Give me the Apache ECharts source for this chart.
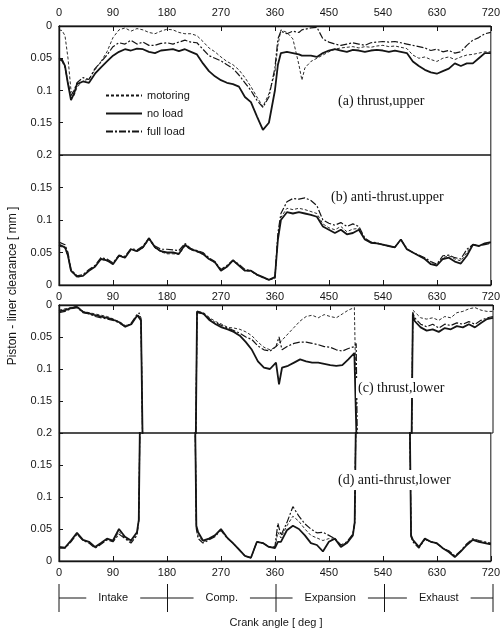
<!DOCTYPE html>
<html>
<head>
<meta charset="utf-8">
<script src="https://cdn.jsdelivr.net/npm/echarts@6/dist/echarts.min.js"></script>
<style>
  html,body{margin:0;padding:0;background:#fff;}
  #main{width:503px;height:632px;}
</style>
</head>
<body>
<div id="main"></div>
<script>
// crank angle grids (deg)
const ANG_A = [0,5,10,15,20,25,30,40,50,60,70,80,90,100,110,120,130,140,150,160,170,180,190,200,210,220,230,240,250,260,270,280,290,300,310,320,330,340,350,360,365,370,380,390,400,405,410,420,430,440,450,460,470,480,490,500,510,520,530,540,550,560,570,580,590,600,610,620,630,640,650,660,670,680,690,700,710,720];
const ANG_B = [0,10,15,20,30,40,50,60,70,80,90,100,110,120,130,140,150,160,170,180,190,200,210,220,230,240,250,260,270,280,290,300,310,320,330,340,350,360,365,370,380,390,400,410,420,430,440,450,460,470,480,490,500,510,520,530,540,550,560,570,580,590,600,610,620,630,640,650,660,670,680,690,700,710,720];
const ANG_CD = [0,10,20,30,40,50,60,70,80,90,100,110,120,130,133,136,140,150,160,170,180,190,200,210,220,226,229,232,240,250,260,270,280,290,300,310,320,330,340,350,360,365,370,380,390,400,410,420,430,440,450,460,470,480,490,493,496,500,510,520,530,540,550,560,570,580,584,587,590,600,610,620,630,640,650,660,670,680,690,700,710,720];

// (a) thrust, upper  [mm]
const motoringA = [0.006,0.007,0.015,0.05,0.1,0.108,0.095,
  0.085,0.082,0.068,0.055,0.04,0.018,0.006,0.003,0.008,0.004,
  0.006,0.01,0.012,0.008,0.005,0.006,0.01,0.012,0.012,0.015,
  0.024,0.034,0.04,0.048,0.055,0.06,0.068,0.08,0.094,0.11,
  0.125,0.105,0.072,0.03,0.006,0.01,0.02,0.06,0.084,0.065,
  0.055,0.05,0.045,0.04,0.036,0.034,0.033,0.032,0.034,0.032,
  0.033,0.031,0.03,0.032,0.031,0.033,0.035,0.045,0.05,0.048,
  0.052,0.055,0.05,0.048,0.052,0.048,0.045,0.044,0.042,0.04,0.04];
const noLoadA = [0.05,0.052,0.062,0.09,0.115,0.105,0.09,
  0.086,0.088,0.074,0.064,0.055,0.046,0.04,0.036,0.038,0.035,
  0.036,0.04,0.042,0.038,0.037,0.036,0.039,0.036,0.04,0.044,
  0.058,0.07,0.078,0.084,0.088,0.09,0.094,0.11,0.118,0.14,
  0.161,0.15,0.1,0.06,0.042,0.04,0.042,0.044,0.046,0.046,
  0.046,0.048,0.042,0.038,0.036,0.038,0.04,0.037,0.038,0.04,
  0.038,0.037,0.038,0.04,0.038,0.04,0.042,0.055,0.062,0.068,
  0.072,0.074,0.07,0.066,0.058,0.062,0.058,0.058,0.05,0.042,0.042];
const fullLoadA = [0.052,0.054,0.064,0.088,0.108,0.1,0.088,
  0.08,0.083,0.066,0.056,0.045,0.032,0.026,0.028,0.022,0.028,
  0.025,0.03,0.03,0.027,0.026,0.028,0.025,0.022,0.025,0.026,
  0.036,0.046,0.05,0.054,0.06,0.066,0.076,0.088,0.1,0.115,
  0.126,0.11,0.065,0.02,0.008,0.012,0.008,0.01,0.006,0.005,
  0.003,0.002,0.02,0.025,0.028,0.03,0.028,0.026,0.028,0.03,
  0.026,0.025,0.024,0.025,0.024,0.026,0.028,0.03,0.032,0.034,
  0.038,0.036,0.04,0.038,0.042,0.04,0.03,0.022,0.018,0.012,0.01];

// (b) anti-thrust, upper
const motoringB = [0.06,0.057,0.044,
  0.021,0.012,0.014,0.022,0.029,0.04,0.037,0.033,0.044,0.042,
  0.054,0.052,0.057,0.07,0.057,0.051,0.048,0.048,0.047,0.06,
  0.054,0.051,0.047,0.04,0.034,0.022,0.028,0.037,0.03,0.022,
  0.021,0.015,0.011,0.008,0.012,0.075,
  0.104,0.118,0.116,0.118,0.116,0.113,0.11,0.094,0.088,0.085,
  0.09,0.082,0.086,0.087,0.071,0.065,0.064,0.062,0.06,0.058,
  0.07,0.055,0.05,0.045,0.04,0.033,0.031,0.042,0.045,0.04,
  0.037,0.05,0.063,0.06,0.063,0.065];
const noLoadB = [0.062,0.058,0.045,
  0.022,0.013,0.014,0.022,0.028,0.04,0.038,0.032,0.045,0.042,
  0.055,0.052,0.058,0.072,0.058,0.052,0.05,0.05,0.048,0.062,
  0.055,0.052,0.048,0.04,0.035,0.022,0.028,0.038,0.03,0.022,
  0.022,0.016,0.012,0.008,0.012,0.07,
  0.1,0.112,0.11,0.112,0.11,0.108,0.105,0.09,0.085,0.08,
  0.085,0.078,0.08,0.085,0.07,0.065,0.064,0.062,0.06,0.058,
  0.07,0.055,0.05,0.045,0.04,0.032,0.03,0.04,0.042,0.036,
  0.033,0.045,0.062,0.06,0.064,0.066];
const fullLoadB = [0.066,0.062,0.05,
  0.024,0.014,0.016,0.024,0.03,0.042,0.04,0.034,0.046,0.044,
  0.056,0.054,0.06,0.072,0.06,0.055,0.055,0.054,0.053,0.064,
  0.056,0.053,0.05,0.042,0.036,0.024,0.03,0.038,0.032,0.024,
  0.022,0.016,0.012,0.008,0.01,0.08,
  0.11,0.128,0.133,0.132,0.134,0.13,0.122,0.1,0.095,0.092,
  0.096,0.09,0.094,0.09,0.072,0.066,0.065,0.062,0.06,0.058,
  0.07,0.056,0.05,0.046,0.042,0.036,0.032,0.045,0.046,0.042,
  0.04,0.055,0.062,0.06,0.062,0.064];

// (c) thrust, lower  (0.3 = off scale, beyond 0.2)
const motoringC = [0.008,0.006,0.004,0.002,0.01,0.012,0.014,0.016,0.018,0.022,0.026,0.032,0.03,0.016,
  0.012,0.02,0.3,
  0.3,0.3,0.3,0.3,0.3,0.3,0.3,0.3,
  0.3,0.01,0.008,
  0.012,0.02,0.026,0.03,0.035,0.036,0.038,0.042,0.048,0.058,0.066,0.07,0.066,
  0.06,
  0.055,0.045,0.035,0.025,0.018,0.016,0.02,0.015,0.018,0.02,0.014,0.008,0.004,
  0.003,0.3,
  0.3,0.3,0.3,0.3,0.3,0.3,0.3,0.3,0.3,
  0.3,0.008,
  0.005,0.02,0.022,0.02,0.024,0.018,0.02,0.012,0.01,0.006,0.004,0.008,0.01,0.01];
const noLoadC = [0.01,0.008,0.005,0.003,0.011,0.013,0.016,0.018,0.02,0.023,0.027,0.034,0.03,0.016,
  0.014,0.024,0.3,
  0.3,0.3,0.3,0.3,0.3,0.3,0.3,0.3,
  0.3,0.01,0.008,
  0.014,0.024,0.03,0.035,0.038,0.042,0.048,0.058,0.07,0.088,0.098,0.1,0.09,
  0.124,
  0.098,0.095,0.09,0.085,0.088,0.09,0.09,0.092,0.094,0.095,0.094,0.085,0.075,
  0.075,0.3,
  0.3,0.3,0.3,0.3,0.3,0.3,0.3,0.3,0.3,
  0.3,0.015,
  0.025,0.035,0.04,0.038,0.042,0.036,0.038,0.033,0.035,0.03,0.035,0.028,0.022,0.02];
const fullLoadC = [0.012,0.01,0.006,0.004,0.012,0.014,0.018,0.02,0.022,0.024,0.028,0.034,0.028,0.014,
  0.012,0.022,0.3,
  0.3,0.3,0.3,0.3,0.3,0.3,0.3,0.3,
  0.3,0.012,0.01,
  0.014,0.022,0.028,0.032,0.036,0.04,0.044,0.05,0.054,0.064,0.07,0.072,0.065,
  0.05,
  0.07,0.064,0.06,0.058,0.058,0.06,0.062,0.065,0.066,0.07,0.072,0.068,0.065,
  0.06,0.3,
  0.3,0.3,0.3,0.3,0.3,0.3,0.3,0.3,0.3,
  0.3,0.012,
  0.02,0.03,0.034,0.03,0.036,0.03,0.032,0.028,0.03,0.026,0.03,0.024,0.02,0.018];

// (d) anti-thrust, lower
const motoringD = [0.021,0.021,0.031,0.043,0.033,0.029,0.021,0.027,0.034,0.031,0.046,0.036,0.03,0.043,
  0.063,0.3,0.3,
  0.3,0.3,0.3,0.3,0.3,0.3,0.3,0.3,
  0.3,0.052,0.04,
  0.03,0.034,0.039,0.049,0.036,0.028,0.018,0.008,0.005,0.03,0.028,0.022,0.021,
  0.045,
  0.036,0.055,0.07,0.062,0.05,0.04,0.036,0.032,0.035,0.034,0.024,0.029,0.041,
  0.06,0.3,
  0.3,0.3,0.3,0.3,0.3,0.3,0.3,0.3,0.3,
  0.3,0.039,
  0.032,0.021,0.034,0.03,0.028,0.02,0.015,0.007,0.015,0.026,0.034,0.031,0.029,0.027];
const noLoadD = [0.022,0.021,0.032,0.044,0.033,0.03,0.022,0.028,0.035,0.032,0.05,0.038,0.032,0.045,
  0.064,0.3,0.3,
  0.3,0.3,0.3,0.3,0.3,0.3,0.3,0.3,
  0.3,0.055,0.045,
  0.032,0.035,0.04,0.05,0.037,0.028,0.018,0.008,0.005,0.03,0.028,0.022,0.02,
  0.03,
  0.03,0.048,0.055,0.05,0.04,0.028,0.025,0.015,0.03,0.035,0.022,0.028,0.04,
  0.06,0.3,
  0.3,0.3,0.3,0.3,0.3,0.3,0.3,0.3,0.3,
  0.3,0.04,
  0.033,0.022,0.035,0.03,0.028,0.02,0.014,0.006,0.015,0.025,0.033,0.03,0.028,0.026];
const fullLoadD = [0.02,0.02,0.03,0.042,0.032,0.028,0.02,0.026,0.033,0.03,0.042,0.035,0.028,0.04,
  0.062,0.3,0.3,
  0.3,0.3,0.3,0.3,0.3,0.3,0.3,0.3,
  0.3,0.05,0.035,
  0.028,0.033,0.038,0.048,0.036,0.028,0.018,0.008,0.005,0.03,0.028,0.022,0.022,
  0.059,
  0.04,0.06,0.085,0.07,0.058,0.05,0.044,0.045,0.04,0.035,0.025,0.03,0.042,
  0.06,0.3,
  0.3,0.3,0.3,0.3,0.3,0.3,0.3,0.3,0.3,
  0.3,0.038,
  0.03,0.02,0.034,0.03,0.027,0.02,0.016,0.008,0.016,0.027,0.035,0.032,0.03,0.028];

const STROKES = ['Intake','Comp.','Expansion','Exhaust'];
const STROKE_MID = [90,270,450,630];
const STROKE_EDGE = [0,180,360,540,720];

const FONT = 'Liberation Sans';
const INK = '#151515';

let chart = echarts.init(document.getElementById('main'));

function pairs(xs, ys){ return xs.map((x,i)=>[x, ys[i]]); }

// grids: a / b / c / d stacked, 0.2 line shared
let grids = [
  {left:59, right:10, top:26, height:129},
  {left:59, right:10, top:155, height:130},
  {left:59, right:10, top:305, height:128},
  {left:59, right:10, top:433, height:128}
].map(g=>Object.assign(g,{show:true, borderColor:INK, borderWidth:1}));

function xAx(i, pos, labels){
  return {
    type:'value', gridIndex:i, position:pos, min:0, max:720, interval:90,
    splitLine:{show:false},
    axisLine:{lineStyle:{color:INK, width:1.4}},
    axisTick:{inside:true, length:5, lineStyle:{color:INK}},
    axisLabel:{show:labels, margin:pos=='top'?8:6, color:INK, fontFamily:FONT, fontSize:11}
  };
}
function yAx(i, inverse, hideMax){
  return {
    type:'value', gridIndex:i, inverse:inverse, min:0, max:0.2, interval:0.05,
    splitLine:{show:false},
    axisLine:{lineStyle:{color:INK, width:1.4}},
    axisTick:{inside:true, length:4, lineStyle:{color:INK}},
    axisLabel:{margin:7, color:INK, fontFamily:FONT, fontSize:11, showMaxLabel:!hideMax}
  };
}

const styles = {
  'motoring': {width:0.9, type:[3,2]},
  'no load': {width:1.8, type:'solid'},
  'full load': {width:1.2, type:[7,2,2,2]}
};
function ser(name, idx, xs, ys){
  return {
    name:name, type:'line', xAxisIndex:idx, yAxisIndex:idx,
    data:pairs(xs, ys), symbol:'none', showSymbol:false, animation:false,
    lineStyle:Object.assign({color:INK}, styles[name]), itemStyle:{color:INK},
    clip:true, z:2
  };
}

// stroke bar under the chart
let x0 = 59, x1 = 493;
let px = d => x0 + d*(x1-x0)/720;
let strokeGraphics = [
  {type:'line', shape:{x1:px(0), y1:598, x2:px(720), y2:598}, style:{stroke:INK, lineWidth:1}}
];
STROKE_EDGE.forEach(d=>{
  strokeGraphics.push({type:'line', shape:{x1:px(d), y1:584, x2:px(d), y2:612}, style:{stroke:INK, lineWidth:1}});
});
STROKES.forEach((s,i)=>{
  strokeGraphics.push({type:'text', x:px(STROKE_MID[i]), y:598, z:10,
    style:{text:s, align:'center', verticalAlign:'middle', fill:INK, font:'11px '+FONT,
           backgroundColor:'#fff', padding:[2,12]}});
});

// panel captions, white box so the vertical traces are broken behind them
let panelText = (t,x,y)=>({type:'text', x:x, y:y, z:10,
  style:{text:t, fill:INK, font:'14px "Liberation Serif"', verticalAlign:'middle', backgroundColor:'#fff', padding:[3,2]}});

let option = {
  backgroundColor:'#fff',
  animation:false,
  grid:grids,
  xAxis:[xAx(0,'top',true), xAx(1,'bottom',true), xAx(2,'top',false), xAx(3,'bottom',true)],
  yAxis:[yAx(0,true,false), yAx(1,false,true), yAx(2,true,false), yAx(3,false,true)],
  legend:{
    data:['motoring','no load','full load'],
    orient:'vertical', left:100, top:85, itemWidth:36, itemHeight:10, itemGap:7,
    itemStyle:{opacity:0},   // line sample only, no dot
    textStyle:{color:INK, fontFamily:FONT, fontSize:11}
  },
  series:[
    ser('motoring',0,ANG_A,motoringA), ser('no load',0,ANG_A,noLoadA), ser('full load',0,ANG_A,fullLoadA),
    ser('motoring',1,ANG_B,motoringB), ser('no load',1,ANG_B,noLoadB), ser('full load',1,ANG_B,fullLoadB),
    ser('motoring',2,ANG_CD,motoringC), ser('no load',2,ANG_CD,noLoadC), ser('full load',2,ANG_CD,fullLoadC),
    ser('motoring',3,ANG_CD,motoringD), ser('no load',3,ANG_CD,noLoadD), ser('full load',3,ANG_CD,fullLoadD)
  ],
  graphic:[
    panelText('(a) thrust,upper',336,101),
    panelText('(b) anti-thrust.upper',329,197),
    panelText('(c) thrust,lower',356,388),
    panelText('(d) anti-thrust,lower',336,480),
    {type:'text', x:13, y:286, rotation:Math.PI/2,
     style:{text:'Piston - liner clearance [ mm ]', fill:INK, font:'12px '+FONT, align:'center', verticalAlign:'middle'}},
    {type:'text', x:px(360), y:623,
     style:{text:'Crank angle [ deg ]', fill:INK, font:'11px '+FONT, align:'center', verticalAlign:'middle'}}
  ].concat(strokeGraphics)
};

chart.setOption(option);
</script>
</body>
</html>
